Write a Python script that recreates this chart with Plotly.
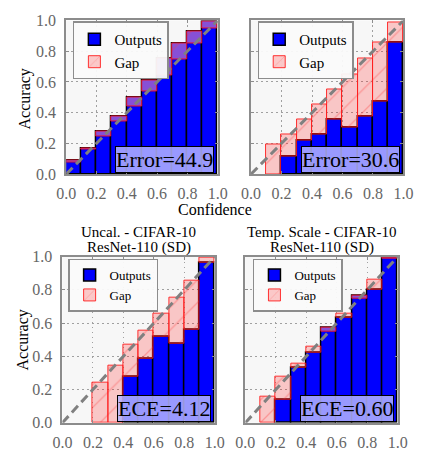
import plotly.graph_objects as go

# ---------------- data ----------------
bin_centers = [0.05, 0.15, 0.25, 0.35, 0.45, 0.55, 0.65, 0.75, 0.85, 0.95]
tick_vals = [0.0, 0.2, 0.4, 0.6, 0.8, 1.0]
tick_text = ["0.0", "0.2", "0.4", "0.6", "0.8", "1.0"]

# accuracy (blue "Outputs" height) and bin confidence (other end of "Gap")
tl_acc = [0.09, 0.17, 0.28, 0.375, 0.50, 0.61, 0.75, 0.85, 0.93, 0.995]
tl_conf = [0.073, 0.16, 0.245, 0.345, 0.44, 0.54, 0.64, 0.745, 0.85, 0.95]

tr_acc = [0.0, 0.0, 0.115, 0.22, 0.26, 0.356, 0.305, 0.372, 0.47, 0.854]
tr_conf = [0.0, 0.19, 0.257, 0.354, 0.454, 0.55, 0.65, 0.75, 0.858, 0.99]

bl_acc = [0.0, 0.0, 0.0, 0.0, 0.278, 0.384, 0.516, 0.474, 0.561, 0.961]
bl_conf = [0.0, 0.0, 0.243, 0.346, 0.468, 0.553, 0.654, 0.755, 0.858, 0.996]

br_acc = [0.0, 0.0, 0.141, 0.329, 0.42, 0.574, 0.634, 0.768, 0.80, 0.996]
br_conf = [0.0, 0.159, 0.277, 0.358, 0.458, 0.551, 0.656, 0.745, 0.861, 0.988]

box_labels = ["Error=44.9", "Error=30.6", "ECE=4.12", "ECE=0.60"]
titles = [("Uncal. - CIFAR-10", "ResNet-110 (SD)"),
          ("Temp. Scale - CIFAR-10", "ResNet-110 (SD)")]

# ---------------- figure ----------------
W, H = 423, 451
FONT = "Liberation Serif"

def px_x(p):
    return p / W

def px_y(p):
    return 1 - p / H

# panel rectangles in pixels: (left, top, right, bottom)
rects = [(59, 13, 218, 173), (253, 13, 413, 173),
         (55, 259, 215, 432), (247, 259, 407, 432)]
legend_pos = [(66, 14, 15), (260, 14, 15), (61, 261, 13), (255, 261, 13)]
data = [(tl_acc, tl_conf), (tr_acc, tr_conf), (bl_acc, bl_conf), (br_acc, br_conf)]

PINK = "rgba(255,0,0,0.2)"
PINK_EDGE = "rgba(255,30,30,0.9)"
PINK_HATCH = "rgba(255,60,60,0.7)"
PURPLE = "rgb(135,80,215)"

def pink_marker():
    return dict(color=PINK, line=dict(color=PINK_EDGE, width=1),
                pattern=dict(shape="/", fgcolor=PINK_HATCH, bgcolor=PINK, size=16,
                             solidity=0.08))

fig = go.Figure()

for i, (acc, conf) in enumerate(data):
    sx = "" if i == 0 else str(i + 1)
    xa, ya = "x" + sx, "y" + sx
    lg = "legend" + sx
    # outputs
    ox = [c for c, a in zip(bin_centers, acc) if a > 0]
    oy = [a for a in acc if a > 0]
    fig.add_trace(go.Bar(x=ox, y=oy, width=0.1, name="Outputs", xaxis=xa, yaxis=ya,
                         legend=lg, marker=dict(color="#0000ff", line=dict(color="black", width=1.5)),
                         hoverinfo="skip"))
    # legend entry for gap
    fig.add_trace(go.Bar(x=[None], y=[None], name="Gap", xaxis=xa, yaxis=ya, legend=lg,
                         marker=pink_marker(), hoverinfo="skip"))
    gx, gb, gh = [], [], []
    ux, ub, uh = [], [], []
    for c, a, f in zip(bin_centers, acc, conf):
        if f > a:
            gx.append(c); gb.append(a); gh.append(f - a)
        elif a > f:
            ux.append(c); ub.append(f); uh.append(a - f)
    # over-confident gaps (pink)
    fig.add_trace(go.Bar(x=gx, y=gh, base=gb, width=0.1, name="Gap", xaxis=xa, yaxis=ya,
                         legend=lg, showlegend=False, marker=pink_marker(), hoverinfo="skip"))
    # under-confident gaps (over the blue bar -> purple)
    fig.add_trace(go.Bar(x=ux, y=uh, base=ub, width=0.1, name="Gap", xaxis=xa, yaxis=ya,
                         legend=lg, showlegend=False,
                         marker=dict(color=PURPLE,
                                     line=dict(color="rgba(230,20,40,1)", width=1),
                                     pattern=dict(shape="/", fgcolor="rgba(230,60,90,0.8)",
                                                  bgcolor=PURPLE, size=16,
                                                  solidity=0.08)),
                         hoverinfo="skip"))
    # diagonal
    fig.add_trace(go.Scatter(x=[0, 1], y=[0, 1], mode="lines", xaxis=xa, yaxis=ya,
                             line=dict(color="rgb(128,128,128)", width=3, dash="9px,5px"),
                             showlegend=False, hoverinfo="skip"))

    l, t, r, b = rects[i]
    axis_common = dict(range=[0, 1], showgrid=True, gridcolor="#a0a0a0", griddash="1.5px,3.5px",
                       gridwidth=1.2, showline=True, linecolor="#8c8c8c", linewidth=2,
                       mirror="ticks", ticks="inside", ticklen=3, tickcolor="#8c8c8c",
                       tickvals=tick_vals, ticktext=tick_text, zeroline=False,
                       tickfont=dict(size=16, color="#666666", family=FONT))
    fig.update_layout(**{
        ("xaxis" + sx): dict(axis_common, domain=[px_x(l), px_x(r)], anchor=ya,
                              ticklabelstandoff=4),
        ("yaxis" + sx): dict(axis_common, domain=[px_y(b), px_y(t)], anchor=xa,
                              showticklabels=(i % 2 == 0), ticklabelstandoff=5),
    })
    lx, ly, lf = legend_pos[i]
    fig.update_layout(**{lg: dict(x=px_x(lx), y=px_y(ly), xanchor="left", yanchor="top",
                                  bgcolor="rgba(250,250,250,0.95)", bordercolor="#8c8c8c",
                                  borderwidth=1.5, font=dict(size=lf, family=FONT, color="black"),
                                  traceorder="normal", tracegroupgap=0, itemwidth=30)})
    # error / ECE box
    fig.add_annotation(text=box_labels[i], xref=xa + " domain", yref=ya + " domain",
                       x=0.975, y=0.005, xanchor="right", yanchor="bottom", showarrow=False,
                       font=dict(size=22, family=FONT, color="black"),
                       bgcolor="rgba(180,180,255,0.85)", bordercolor="black", borderwidth=1,
                       borderpad=0)

# axis labels and titles
def label(text, x, y, size=16, angle=0):
    fig.add_annotation(text=text, x=px_x(x), y=px_y(y), xref="paper", yref="paper",
                       xanchor="center", yanchor="middle", textangle=angle, showarrow=False,
                       font=dict(size=size, family=FONT, color="black"))

label("Accuracy", 16, 95, angle=-90)
label("Accuracy", 14, 346, angle=-90)
label("Confidence", 215, 210)
for (l1, l2), cx in zip(titles, [135, 327]):
    label(l1, cx, 233, size=15)
    label(l2, cx, 249, size=15)

fig.update_layout(width=W, height=H, margin=dict(l=0, r=0, t=0, b=0),
                  paper_bgcolor="white", plot_bgcolor="#f7f7f7", barmode="overlay",
                  bargap=0, font=dict(family=FONT))

fig.write_html("out.html")
